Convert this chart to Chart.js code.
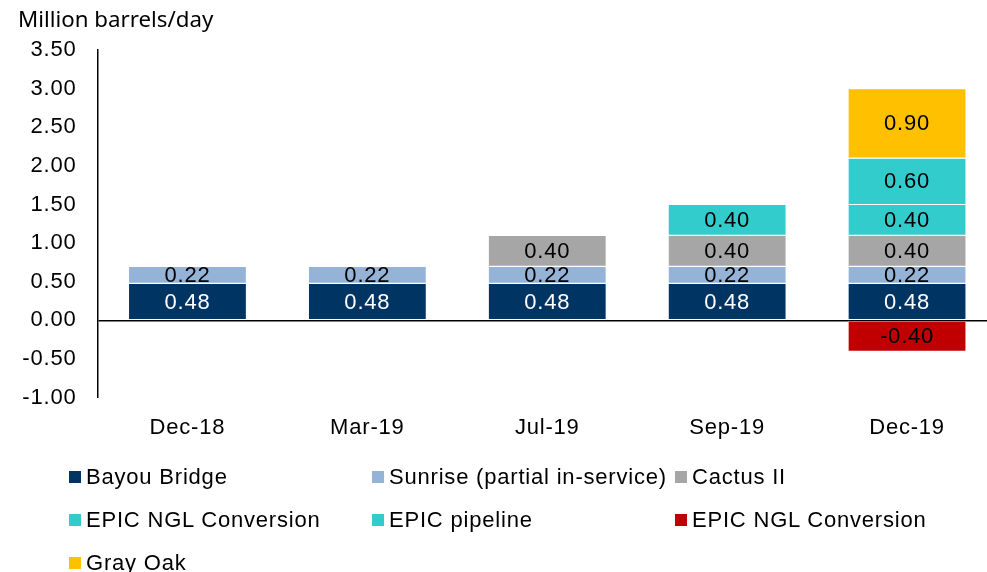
<!DOCTYPE html>
<html>
<head>
<meta charset="utf-8">
<script src="https://cdn.jsdelivr.net/npm/chart.js@4"></script>
<style>
  html, body { margin: 0; padding: 0; background: #fff; overflow: hidden; width: 987px; height: 572px; }
  #wrap { position: relative; width: 987px; height: 572px; overflow: hidden; }
  #cv { position: absolute; left: 0; top: 0; }
  #unit { position: absolute; left: 18px; top: 3px; font-family: "Noto Sans", sans-serif; font-size: 22.3px; color: #000; white-space: nowrap; }
  #legend { position: absolute; left: 69px; top: 455px; display: grid; grid-template-columns: 303px 303px 303px; grid-auto-rows: 43px; }
  .li { display: flex; align-items: center; font-family: "Liberation Sans", Arial, sans-serif; font-size: 22px; letter-spacing: 0.8px; color: #000; white-space: nowrap; height: 43px; }
  .sw { width: 12px; height: 12px; margin-right: 5px; flex: none; }
</style>
</head>
<body>
<div id="wrap">
  <canvas id="cv"></canvas>
  <div id="unit">Million barrels/day</div>
  <div id="legend"></div>
</div>
<script>
const categories = ["Dec-18", "Mar-19", "Jul-19", "Sep-19", "Dec-19"];
const bayouBridge = [0.48, 0.48, 0.48, 0.48, 0.48];
const sunrise = [0.22, 0.22, 0.22, 0.22, 0.22];
const cactusII = [null, null, 0.40, 0.40, 0.40];
const epicNglConversion = [null, null, null, 0.40, 0.40];
const epicPipeline = [null, null, null, null, 0.60];
const epicNglConversionNeg = [null, null, null, null, -0.40];
const grayOak = [null, null, null, null, 0.90];
const yTicks = [-1.0, -0.5, 0.0, 0.5, 1.0, 1.5, 2.0, 2.5, 3.0, 3.5];

const seriesNames = ["Bayou Bridge", "Sunrise (partial in-service)", "Cactus II", "EPIC NGL Conversion", "EPIC pipeline", "EPIC NGL Conversion", "Gray Oak"];
const seriesValues = [bayouBridge, sunrise, cactusII, epicNglConversion, epicPipeline, epicNglConversionNeg, grayOak];
const seriesColors = ["#003462", "#95B3D7", "#A6A6A6", "#33CCCC", "#33CCCC", "#C00000", "#FFC000"];
const labelColors = ["#FFFFFF", "#000000", "#000000", "#000000", "#000000", "#000000", "#000000"];

const FONT = '"Liberation Sans", Arial, sans-serif';

const datasets = seriesNames.map((name, i) => ({
  label: name,
  data: seriesValues[i],
  backgroundColor: seriesColors[i],
  borderColor: 'rgba(255,255,255,0.3)',
  borderWidth: 0.6,
  borderSkipped: false,
  barPercentage: 0.656,
  categoryPercentage: 1.0,
  labelColor: labelColors[i]
}));

const spacing = {
  id: 'spacing',
  beforeDraw(chart) { chart.ctx.letterSpacing = '0.8px'; }
};

const valueLabels = {
  id: 'valueLabels',
  afterDatasetsDraw(chart) {
    const ctx = chart.ctx;
    ctx.save();
    ctx.font = '22px ' + FONT;
    ctx.textAlign = 'center';
    ctx.textBaseline = 'middle';
    chart.data.datasets.forEach((ds, di) => {
      const meta = chart.getDatasetMeta(di);
      meta.data.forEach((el, idx) => {
        const v = ds.data[idx];
        if (v === null || v === undefined) return;
        const p = el.getProps(['x', 'y', 'base'], true);
        ctx.fillStyle = ds.labelColor;
        ctx.fillText(v.toFixed(2), p.x, (p.y + p.base) / 2 + 1);
      });
    });
    ctx.restore();
  }
};

const cv = document.getElementById('cv');
cv.width = 1000; cv.height = 458;
cv.style.width = '1000px'; cv.style.height = '458px';

new Chart(cv, {
  type: 'bar',
  data: { labels: categories, datasets },
  options: {
    responsive: false,
    animation: false,
    devicePixelRatio: 1,
    layout: { padding: { top: 50, right: 3, left: 0, bottom: 0 } },
    plugins: { legend: { display: false }, tooltip: { enabled: false }, title: { display: false } },
    scales: {
      x: {
        stacked: true,
        grid: { display: false, drawTicks: false },
        border: { display: false },
        ticks: { color: '#000', font: { family: FONT, size: 22 }, padding: 17, maxRotation: 0 }
      },
      y: {
        stacked: true,
        min: -1, max: 3.5,
        afterFit(scale) { scale.width = 97.5; },
        afterBuildTicks(scale) { scale.ticks = yTicks.map(v => ({ value: v })); },
        grid: {
          drawTicks: false,
          color: c => (c.tick && c.tick.value === 0) ? '#000' : 'rgba(0,0,0,0)',
          lineWidth: c => (c.tick && c.tick.value === 0) ? 1.5 : 0
        },
        border: { display: true, color: '#000', width: 1.5 },
        ticks: { color: '#000', font: { family: FONT, size: 22 }, padding: 21, callback: v => Number(v).toFixed(2) }
      }
    }
  },
  plugins: [spacing, valueLabels]
});

const lg = document.getElementById('legend');
seriesNames.forEach((name, i) => {
  const item = document.createElement('div');
  item.className = 'li';
  const sw = document.createElement('span');
  sw.className = 'sw';
  sw.style.background = seriesColors[i];
  const tx = document.createElement('span');
  tx.textContent = name;
  item.appendChild(sw); item.appendChild(tx);
  lg.appendChild(item);
});
</script>
</body>
</html>
